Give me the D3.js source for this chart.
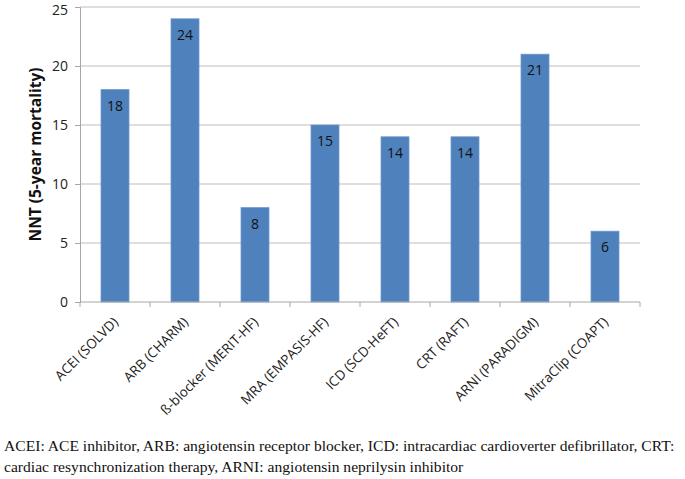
<!DOCTYPE html>
<html>
<head>
<meta charset="utf-8">
<script src="https://cdn.jsdelivr.net/npm/d3@7"></script>
<style>
  body { margin: 0; background: #fff; }
  svg text { font-family: "Open Sans", "Noto Sans", sans-serif; }
  .caption { font-family: "Liberation Serif", serif; font-size: 15.6px; fill: #111; }
</style>
</head>
<body>
<div id="chart"></div>
<script>
// trials and their NNT values
const categories = ['ACEI (SOLVD)', 'ARB (CHARM)', 'ß-blocker (MERIT-HF)', 'MRA (EMPASIS-HF)',
                    'ICD (SCD-HeFT)', 'CRT (RAFT)', 'ARNI (PARADIGM)', 'MitraClip (COAPT)'];
const nnt = [18, 24, 8, 15, 14, 14, 21, 6];
const yTicks = [0, 5, 10, 15, 20, 25];
const captionLines = [
    'ACEI: ACE inhibitor, ARB: angiotensin receptor blocker, ICD: intracardiac cardioverter defibrillator, CRT:',
    'cardiac resynchronization therapy, ARNI: angiotensin neprilysin inhibitor'
];

const width = 685, height = 479;
const plot = {left: 80, right: 640, top: 7, bottom: 302};

const svg = d3.select('#chart').append('svg')
    .attr('width', width)
    .attr('height', height);

const x = d3.scaleBand()
    .domain(categories)
    .range([plot.left, plot.right])
    .paddingInner(0.6)
    .paddingOuter(0.3);

const y = d3.scaleLinear()
    .domain([0, 25])
    .range([plot.bottom, plot.top]);

// gridlines
svg.append('g')
    .selectAll('line')
    .data(yTicks.filter(d => d > 0))
    .join('line')
    .attr('x1', plot.left).attr('x2', plot.right)
    .attr('y1', d => y(d)).attr('y2', d => y(d))
    .attr('stroke', '#bdbdbd')
    .attr('stroke-width', 1);

// y axis
const yAxis = svg.append('g')
    .attr('transform', `translate(${plot.left},0)`)
    .call(d3.axisLeft(y).tickValues(yTicks).tickSize(5).tickPadding(7));
yAxis.select('.domain').attr('stroke', '#a6a6a6');
yAxis.selectAll('.tick line').attr('stroke', '#a6a6a6');
yAxis.selectAll('.tick text').attr('font-size', 14).attr('fill', '#222')
    .attr('font-family', '"Open Sans", sans-serif')
    .attr('dy', d => d === 25 ? '0.5em' : '0.32em');

// bars
svg.append('g')
    .selectAll('rect')
    .data(nnt)
    .join('rect')
    .attr('x', (d, i) => x(categories[i]))
    .attr('y', d => y(d))
    .attr('width', x.bandwidth())
    .attr('height', d => y(0) - y(d))
    .attr('fill', '#4f81bd')
    .attr('stroke', '#6f9ad0')
    .attr('stroke-width', 0.8);

// value labels
svg.append('g')
    .selectAll('text')
    .data(nnt)
    .join('text')
    .attr('x', (d, i) => x(categories[i]) + x.bandwidth() / 2)
    .attr('y', d => y(d) + 21)
    .attr('text-anchor', 'middle')
    .attr('font-size', 14)
    .attr('fill', '#111')
    .text(d => d);

// x axis with ticks on category boundaries
const xAxis = svg.append('g');
xAxis.append('line')
    .attr('x1', plot.left).attr('x2', plot.right)
    .attr('y1', plot.bottom).attr('y2', plot.bottom)
    .attr('stroke', '#a6a6a6');
const step = x.step();
xAxis.selectAll('.xtick')
    .data(d3.range(categories.length + 1))
    .join('line')
    .attr('class', 'xtick')
    .attr('x1', i => plot.left + i * step).attr('x2', i => plot.left + i * step)
    .attr('y1', plot.bottom).attr('y2', plot.bottom + 5)
    .attr('stroke', '#a6a6a6');

xAxis.selectAll('.xlabel')
    .data(categories)
    .join('text')
    .attr('class', 'xlabel')
    .attr('transform', d => `translate(${x(d) + x.bandwidth() / 2 + 4},${plot.bottom + 21}) rotate(-45)`)
    .attr('text-anchor', 'end')
    .attr('font-size', 13.5)
    .attr('fill', '#222')
    .text(d => d);

// y axis title
svg.append('text')
    .attr('transform', `translate(41,${(plot.top + plot.bottom) / 2}) rotate(-90)`)
    .attr('text-anchor', 'middle')
    .attr('font-size', 15.5)
    .attr('font-weight', 'bold')
    .attr('fill', '#111')
    .text('NNT (5-year mortality)');

// caption under the figure
svg.selectAll('.caption')
    .data(captionLines)
    .join('text')
    .attr('class', 'caption')
    .attr('x', 4)
    .attr('y', (d, i) => 451 + i * 21)
    .text(d => d);
</script>
</body>
</html>
